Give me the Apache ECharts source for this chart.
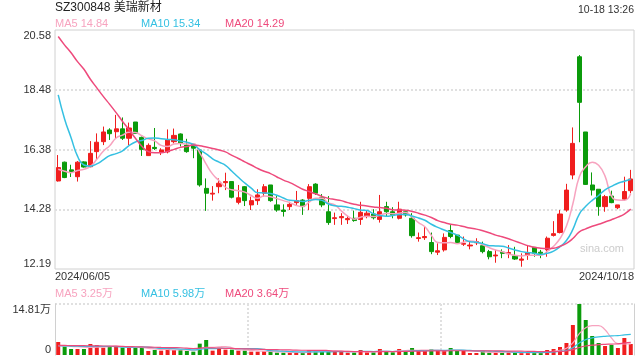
<!DOCTYPE html>
<html><head><meta charset="utf-8">
<script src="https://cdn.jsdelivr.net/npm/echarts@6/dist/echarts.min.js"></script>
<style>html,body{margin:0;padding:0;background:#fff}#c{width:640px;height:360px}</style>
</head><body><div id="c"></div>
<script>
const stockTitle = 'SZ300848 美瑞新材';
const timeStamp = '10-18 13:26';
const dateLabels = ['2024/06/05', '2024/10/18'];
const priceTicks = ['12.19', '14.28', '16.38', '18.48', '20.58'];
const watermark = 'sina.com';

const opens = [15.28,15.94,15.67,15.43,15.95,15.78,16.31,16.66,17.07,17.01,17.11,16.78,17.35,16.81,16.17,16.46,16.29,16.30,16.66,16.93,
16.54,16.57,16.37,15.02,14.82,15.08,15.22,15.26,14.53,15.08,14.44,14.59,14.85,15.14,14.44,14.26,14.38,14.52,14.61,14.67,
15.17,14.69,14.20,13.96,13.99,13.92,13.97,13.93,14.03,14.12,13.93,14.38,14.20,13.97,14.20,13.97,13.26,13.29,13.12,12.78,
12.86,13.54,13.38,13.06,13.00,13.11,13.01,12.80,12.65,12.78,12.73,12.65,12.50,12.68,12.95,12.78,12.86,13.37,13.47,14.26,
15.49,19.64,17.00,15.14,14.99,14.38,14.75,14.34,14.64,14.94];
const closes = [15.75,15.40,15.61,15.94,15.77,16.25,16.64,17.00,16.94,17.11,16.78,17.14,16.95,16.39,16.53,16.42,16.37,16.72,16.88,16.60,
16.31,16.43,15.14,14.85,14.85,15.20,15.26,14.71,14.69,14.59,14.59,14.79,15.08,14.59,14.26,14.21,14.46,14.59,14.38,15.08,
14.85,14.44,13.82,13.99,14.03,13.96,13.89,14.18,14.15,13.99,14.20,14.20,14.09,14.29,14.09,13.36,13.29,13.33,12.80,12.83,
13.30,13.33,13.12,13.09,13.03,13.15,12.80,12.62,12.68,12.74,12.77,12.54,12.54,12.77,12.74,12.74,13.27,13.43,14.12,14.96,
16.60,18.04,15.16,14.96,14.38,14.73,14.52,14.44,14.91,15.35];
const lows = [15.26,15.38,15.42,15.26,15.75,15.76,16.02,16.54,16.72,16.78,16.72,16.54,16.93,16.16,16.16,16.37,16.19,16.25,16.60,16.49,
16.27,16.08,15.08,14.23,14.59,14.85,14.96,14.67,14.46,14.40,14.26,14.44,14.73,14.55,14.20,14.03,14.26,14.44,14.09,14.26,
14.79,14.36,13.74,13.74,13.74,13.77,13.85,13.74,13.97,13.93,13.82,14.03,13.97,13.93,14.03,13.29,13.15,13.21,12.71,12.68,
12.80,13.27,13.09,13.00,12.88,13.03,12.74,12.53,12.41,12.57,12.57,12.51,12.27,12.51,12.62,12.57,12.62,13.33,13.44,14.20,
15.34,16.64,15.14,14.77,14.06,14.20,14.50,14.29,14.59,14.85];
const highs = [16.19,15.96,15.85,15.98,15.97,16.68,16.95,17.19,17.13,17.60,17.51,17.33,17.35,16.84,16.60,17.14,16.43,17.09,17.12,16.95,
16.76,16.60,16.39,15.37,15.10,15.37,15.57,15.26,15.14,15.10,14.73,14.99,15.17,15.14,14.75,14.46,14.55,14.93,14.64,15.17,
15.20,14.82,14.75,14.17,14.15,14.06,14.24,14.55,14.26,14.29,14.79,14.55,14.36,14.55,14.24,14.15,13.47,13.70,13.47,13.09,
13.44,13.73,13.38,13.33,13.15,13.27,13.15,12.86,12.86,12.88,13.03,12.97,12.74,13.03,12.95,12.86,13.33,13.87,14.26,15.18,
17.16,19.70,17.00,15.58,14.99,14.79,14.94,14.44,15.43,15.67];

const ma5 = [15.69,15.62,15.57,15.65,15.69,15.79,16.04,16.32,16.52,16.79,16.89,16.99,16.98,16.87,16.76,16.69,16.53,16.49,16.58,16.60,
16.58,16.59,16.27,15.87,15.52,15.29,15.06,14.97,14.94,14.89,14.77,14.67,14.75,14.73,14.66,14.59,14.52,14.42,14.38,14.54,
14.67,14.67,14.51,14.44,14.23,14.05,13.94,14.01,14.04,14.03,14.08,14.14,14.13,14.15,14.17,14.01,13.82,13.67,13.37,13.12,
13.11,13.12,13.08,13.13,13.17,13.14,13.04,12.94,12.86,12.80,12.72,12.67,12.65,12.67,12.67,12.67,12.81,12.99,13.26,13.70,
14.48,15.43,15.78,15.94,15.83,15.45,14.75,14.61,14.60,14.84];
const ma10 = [18.30,17.45,16.80,16.15,15.84,15.80,15.88,16.02,16.17,16.24,16.34,16.52,16.65,16.70,16.78,16.79,16.76,16.74,16.73,16.68,
16.64,16.56,16.38,16.23,16.06,15.94,15.83,15.62,15.41,15.21,15.03,14.87,14.86,14.84,14.78,14.68,14.60,14.59,14.56,14.60,
14.63,14.60,14.47,14.41,14.39,14.36,14.31,14.26,14.24,14.13,14.07,14.04,14.07,14.10,14.10,14.05,13.98,13.90,13.76,13.65,
13.56,13.47,13.38,13.25,13.15,13.13,13.08,13.01,13.00,12.99,12.93,12.86,12.80,12.77,12.74,12.70,12.74,12.82,12.97,13.19,
13.58,14.12,14.39,14.60,14.77,14.97,15.09,15.20,15.27,15.34];
const ma20 = [20.35,20.05,19.78,19.47,19.20,18.85,18.55,18.25,17.97,17.68,17.37,17.08,16.78,16.50,16.31,16.27,16.27,16.32,16.39,16.46,
16.49,16.54,16.52,16.47,16.42,16.37,16.30,16.18,16.07,15.95,15.84,15.72,15.62,15.54,15.42,15.31,15.22,15.11,14.99,14.91,
14.83,14.74,14.67,14.63,14.59,14.52,14.46,14.43,14.40,14.37,14.35,14.32,14.27,14.26,14.25,14.21,14.15,14.08,14.00,13.89,
13.82,13.76,13.73,13.68,13.63,13.59,13.53,13.46,13.38,13.32,13.25,13.17,13.09,13.01,12.95,12.92,12.91,12.92,12.99,13.09,
13.26,13.49,13.60,13.69,13.76,13.84,13.92,14.01,14.12,14.29];

const volume = [3.78,2.52,1.74,1.74,1.74,3.19,2.90,2.13,2.32,2.52,2.13,2.13,2.13,2.13,1.16,1.45,1.26,1.94,1.45,1.45,
1.16,0.97,3.29,4.36,1.26,1.84,1.55,1.55,1.26,1.26,0.97,0.97,1.06,0.97,0.68,0.68,0.68,0.77,0.68,1.36,
1.06,1.16,1.16,1.16,1.06,0.68,0.68,1.45,0.77,0.77,1.74,1.06,0.77,1.74,1.16,2.03,1.16,1.16,1.65,1.16,
1.26,2.03,1.16,1.16,0.58,0.58,1.16,0.68,0.77,0.68,0.77,0.77,0.58,0.58,0.77,0.68,1.45,1.74,2.32,3.48,
8.71,14.81,10.16,5.52,3.48,2.61,2.90,2.03,4.94,3.19];
const volMa5 = [2.70,2.60,2.50,2.40,2.30,2.19,2.26,2.34,2.46,2.61,2.40,2.25,2.25,2.21,1.94,1.80,1.63,1.59,1.45,1.51,
1.45,1.39,1.66,2.25,2.21,2.34,2.46,2.11,1.49,1.49,1.32,1.20,1.10,1.05,0.93,0.87,0.81,0.76,0.70,0.83,
0.91,1.01,1.08,1.18,1.12,1.04,0.95,1.01,0.93,0.87,1.08,1.16,1.02,1.22,1.29,1.35,1.37,1.45,1.43,1.43,
1.28,1.45,1.45,1.35,1.24,1.10,0.93,0.83,0.75,0.77,0.81,0.73,0.71,0.68,0.69,0.68,0.81,1.04,1.39,1.93,
3.54,6.21,7.90,8.54,8.54,7.32,4.93,3.31,3.19,3.25];
const volMa10 = [2.70,2.65,2.60,2.55,2.50,2.50,2.50,2.50,2.48,2.46,2.30,2.26,2.30,2.34,2.28,2.10,1.94,1.92,1.83,1.73,
1.63,1.51,1.63,1.85,1.86,1.90,1.93,1.89,1.87,1.85,1.83,1.83,1.61,1.27,1.21,1.10,1.01,0.93,0.88,0.88,
0.89,0.91,0.92,0.94,0.98,0.98,0.98,1.05,1.06,1.00,1.06,1.06,1.02,1.08,1.08,1.22,1.27,1.24,1.33,1.36,
1.32,1.41,1.45,1.39,1.34,1.19,1.19,1.14,1.05,1.01,0.96,0.83,0.77,0.72,0.73,0.75,0.77,0.88,1.04,1.31,
2.11,3.51,4.47,4.97,5.24,5.43,5.57,5.61,5.87,5.98];
const volMa20 = [2.80,2.78,2.75,2.72,2.70,2.68,2.65,2.62,2.60,2.55,2.50,2.45,2.40,2.35,2.30,2.25,2.20,2.17,2.13,2.10,
1.97,1.89,1.97,2.10,2.07,2.00,1.94,1.91,1.85,1.79,1.73,1.67,1.62,1.56,1.54,1.50,1.47,1.41,1.38,1.37,
1.36,1.37,1.27,1.11,1.10,1.04,1.00,0.99,0.97,0.94,0.98,0.99,0.97,1.01,1.03,1.10,1.13,1.15,1.20,1.18,
1.19,1.24,1.24,1.24,1.21,1.21,1.23,1.19,1.19,1.19,1.14,1.12,1.11,1.06,1.04,0.97,0.98,1.01,1.05,1.16,
1.54,2.17,2.62,2.85,2.99,3.09,3.17,3.25,3.46,3.64];

const UP = '#f01e1e', DOWN = '#0b9b0b';
const C5 = '#f7a3bf', C10 = '#35c0e2', C20 = '#ee4a7c';
const FONT = 'Arial, "Liberation Sans", "Noto Sans CJK SC", sans-serif';
const last = a => a[a.length - 1];
const idx = closes.map((_, i) => i);
const volMax = Math.max(...volume);
const nBars = closes.length;

const chart = echarts.init(document.getElementById('c'), null, {renderer: 'canvas'});
const dotted = {color: '#e0e0e0', type: [2, 2], width: 2};
const lineS = (name, data, color, xi, yi, w) => ({
  name, type: 'line', data, xAxisIndex: xi, yAxisIndex: yi, symbol: 'none', smooth: true,
  lineStyle: {color, width: w}, itemStyle: {color}, silent: true
});
const txt = (text, x, y, color, size, align) => ({
  type: 'text', x, y, silent: true,
  style: {text, fill: color, font: size + 'px ' + FONT, align: align || 'left', verticalAlign: 'middle'}
});

chart.setOption({
  animation: false,
  backgroundColor: '#fff',
  textStyle: {fontFamily: FONT},
  grid: [
    {left: 55, right: 6, top: 30, height: 239, show: true, borderColor: '#d0d0d0', borderWidth: 1, backgroundColor: 'transparent'},
    {left: 55, right: 6, top: 304, height: 51}
  ],
  xAxis: [
    {type: 'category', gridIndex: 0, data: idx, boundaryGap: true, axisLine: {show: false}, axisTick: {show: false}, axisLabel: {show: false}, splitLine: {show: false}},
    {type: 'category', gridIndex: 1, data: idx, boundaryGap: true, axisLine: {show: false}, axisTick: {show: false}, axisLabel: {show: false}, splitLine: {show: false}},
    {type: 'value', gridIndex: 1, min: 0, max: nBars, interval: nBars / 3, show: true,
     axisLine: {show: false}, axisTick: {show: false}, axisLabel: {show: false},
     splitLine: {show: true, showMinLine: false, showMaxLine: false, lineStyle: dotted}}
  ],
  yAxis: [
    {type: 'value', gridIndex: 0, min: Number(priceTicks[0]), max: Number(last(priceTicks)), show: false},
    {type: 'value', gridIndex: 0, position: 'left', min: 0, max: priceTicks.length - 1, interval: 1,
     axisLine: {show: false}, axisTick: {show: false},
     axisLabel: {formatter: v => priceTicks[Math.round(v)], color: '#333', fontSize: 11, margin: 4,
       verticalAlignMinLabel: 'bottom', verticalAlignMaxLabel: 'top'},
     splitLine: {show: true, showMinLine: false, showMaxLine: false, lineStyle: dotted}},
    {type: 'value', gridIndex: 1, position: 'left', min: 0, max: volMax, interval: volMax,
     axisLine: {show: true, lineStyle: {color: '#d0d0d0'}}, axisTick: {show: false},
     axisLabel: {formatter: v => v === 0 ? '0' : volMax.toFixed(2) + '万', color: '#333', fontSize: 11, margin: 4,
       verticalAlignMinLabel: 'bottom', verticalAlignMaxLabel: 'top'},
     splitLine: {show: true, showMinLine: false, lineStyle: dotted}},
    {type: 'value', gridIndex: 1, position: 'right', min: 0, max: volMax,
     axisLine: {show: true, lineStyle: {color: '#d0d0d0'}}, axisTick: {show: false}, axisLabel: {show: false}, splitLine: {show: false}}
  ],
  series: [
    {type: 'candlestick', xAxisIndex: 0, yAxisIndex: 0, barWidth: '72%', silent: true,
     data: opens.map((o, i) => [o, closes[i], lows[i], highs[i]]),
     itemStyle: {color: UP, color0: DOWN, borderColor: UP, borderColor0: DOWN, borderWidth: 1}},
    lineS('MA5', ma5, C5, 0, 0, 1.5),
    lineS('MA10', ma10, C10, 0, 0, 1.5),
    lineS('MA20', ma20, C20, 0, 0, 1.5),
    {type: 'bar', xAxisIndex: 1, yAxisIndex: 2, barWidth: 4, silent: true,
     data: volume.map((v, i) => ({value: v, itemStyle: {color: closes[i] >= opens[i] ? UP : DOWN}}))},
    lineS('VMA5', volMa5, C5, 1, 2, 1.2),
    lineS('VMA10', volMa10, C10, 1, 2, 1.2),
    lineS('VMA20', volMa20, C20, 1, 2, 1.2)
  ],
  graphic: [
    txt(stockTitle, 55, 8, '#222', 12),
    txt(timeStamp, 634, 10, '#333', 10.5, 'right'),
    txt('MA5 ' + last(ma5).toFixed(2), 55, 24, C5, 11),
    txt('MA10 ' + last(ma10).toFixed(2), 141, 24, C10, 11),
    txt('MA20 ' + last(ma20).toFixed(2), 225, 24, C20, 11),
    txt(dateLabels[0], 55, 277, '#333', 11),
    txt(dateLabels[1], 634, 277, '#333', 11, 'right'),
    txt('MA5 ' + last(volMa5).toFixed(2) + '万', 55, 294, C5, 11),
    txt('MA10 ' + last(volMa10).toFixed(2) + '万', 141, 294, C10, 11),
    txt('MA20 ' + last(volMa20).toFixed(2) + '万', 225, 294, C20, 11),
    txt(watermark, 602, 249, '#cccccc', 11, 'center')
  ]
});
</script>
</body></html>
